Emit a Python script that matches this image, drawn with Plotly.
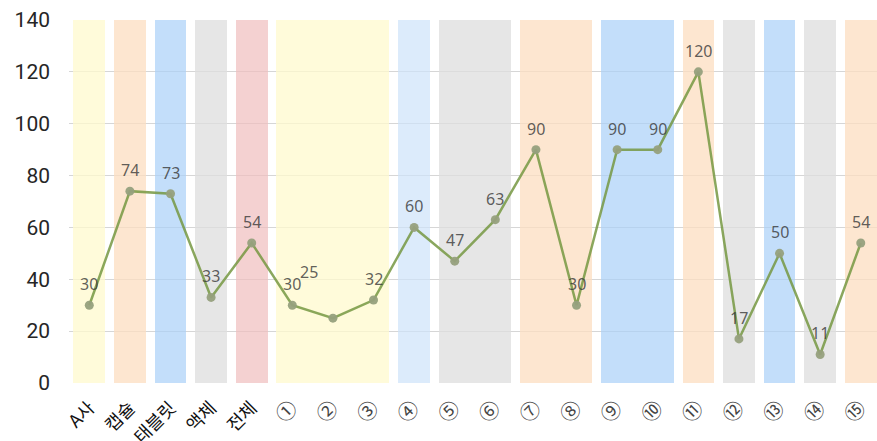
import plotly.graph_objects as go

categories = ["A사", "캡슐", "태블릿", "액체", "전체",
              "①", "②", "③", "④", "⑤", "⑥", "⑦", "⑧", "⑨", "⑩",
              "⑪", "⑫", "⑬", "⑭", "⑮"]
values = [30, 74, 73, 33, 54, 30, 25, 32, 60, 47, 63, 90, 30, 90, 90, 120, 17, 50, 11, 54]
y_ticks = [0, 20, 40, 60, 80, 100, 120, 140]

band_first = ["A사", "캡슐", "태블릿", "액체", "전체", "①", "④", "⑤", "⑦", "⑨", "⑪", "⑫", "⑬", "⑭", "⑮"]
band_last = ["A사", "캡슐", "태블릿", "액체", "전체", "③", "④", "⑥", "⑧", "⑩", "⑪", "⑫", "⑬", "⑭", "⑮"]
band_kind = ["yellow", "orange", "blue", "gray", "red", "yellow", "lightblue", "gray",
             "orange", "blue", "orange", "gray", "blue", "gray", "orange"]

palette = {
    "yellow": "rgba(255,250,205,0.75)",
    "orange": "rgba(252,222,192,0.75)",
    "blue": "rgba(170,208,248,0.7)",
    "lightblue": "rgba(205,226,250,0.7)",
    "gray": "rgba(222,222,222,0.75)",
    "red": "rgba(240,190,190,0.7)",
}

idx = {c: i for i, c in enumerate(categories)}
band_x, band_w, band_c = [], [], []
for a, b, k in zip(band_first, band_last, band_kind):
    i0, i1 = idx[a], idx[b]
    band_x.append((i0 + i1) / 2)
    band_w.append((i1 - i0) + 0.78)
    band_c.append(palette[k])

fig = go.Figure()
fig.add_trace(go.Bar(
    x=band_x, y=[max(y_ticks)] * len(band_x), width=band_w,
    marker=dict(color=band_c, line=dict(width=0)),
    hoverinfo="skip", showlegend=False,
))
fig.add_trace(go.Scatter(
    x=list(range(len(categories))), y=values, mode="lines+markers",
    line=dict(color="rgba(118,152,66,0.85)", width=2.5),
    marker=dict(color="rgba(150,160,125,0.95)", size=9),
    showlegend=False,
))

label_nudge = {"②": (-24, 46)}
for i, (c, v) in enumerate(zip(categories, values)):
    dx, dy = label_nudge.get(c, (0, 21))
    fig.add_annotation(
        x=i, y=v, text=str(v), showarrow=False, xshift=dx, yshift=dy,
        font=dict(family="Noto Sans", size=16, color="rgba(55,55,55,0.8)"),
    )

ticktext = []
for c in categories:
    if len(c) == 1 and 0x2460 <= ord(c) <= 0x2473:
        ticktext.append(f"<span style='color:#444444;font-size:20px'>{c}</span>")
    else:
        ticktext.append(c)

fig.update_layout(
    width=877, height=441,
    margin=dict(l=69, r=0, t=20, b=58),
    plot_bgcolor="white", paper_bgcolor="white",
    bargap=0,
    font=dict(family="Noto Sans CJK KR, Noto Sans, sans-serif"),
    xaxis=dict(
        range=[-0.5, 19.4], tickmode="array",
        tickvals=list(range(len(categories))), ticktext=ticktext,
        tickangle=-45, showgrid=False, zeroline=False, showline=False,
        tickfont=dict(size=18, color="#111111", family="Noto Sans CJK KR"),
        ticks="", ticklen=0, ticklabelstandoff=10, automargin=False,
    ),
    yaxis=dict(
        range=[0, 140], tickvals=y_ticks, showgrid=True, gridcolor="#D6D6D6",
        gridwidth=1, zeroline=False, showline=False,
        tickfont=dict(size=21, color="#262626", family="Roboto"),
        ticks="", ticklen=0, ticklabelstandoff=18, automargin=False,
    ),
)

fig.write_html("out.html")
